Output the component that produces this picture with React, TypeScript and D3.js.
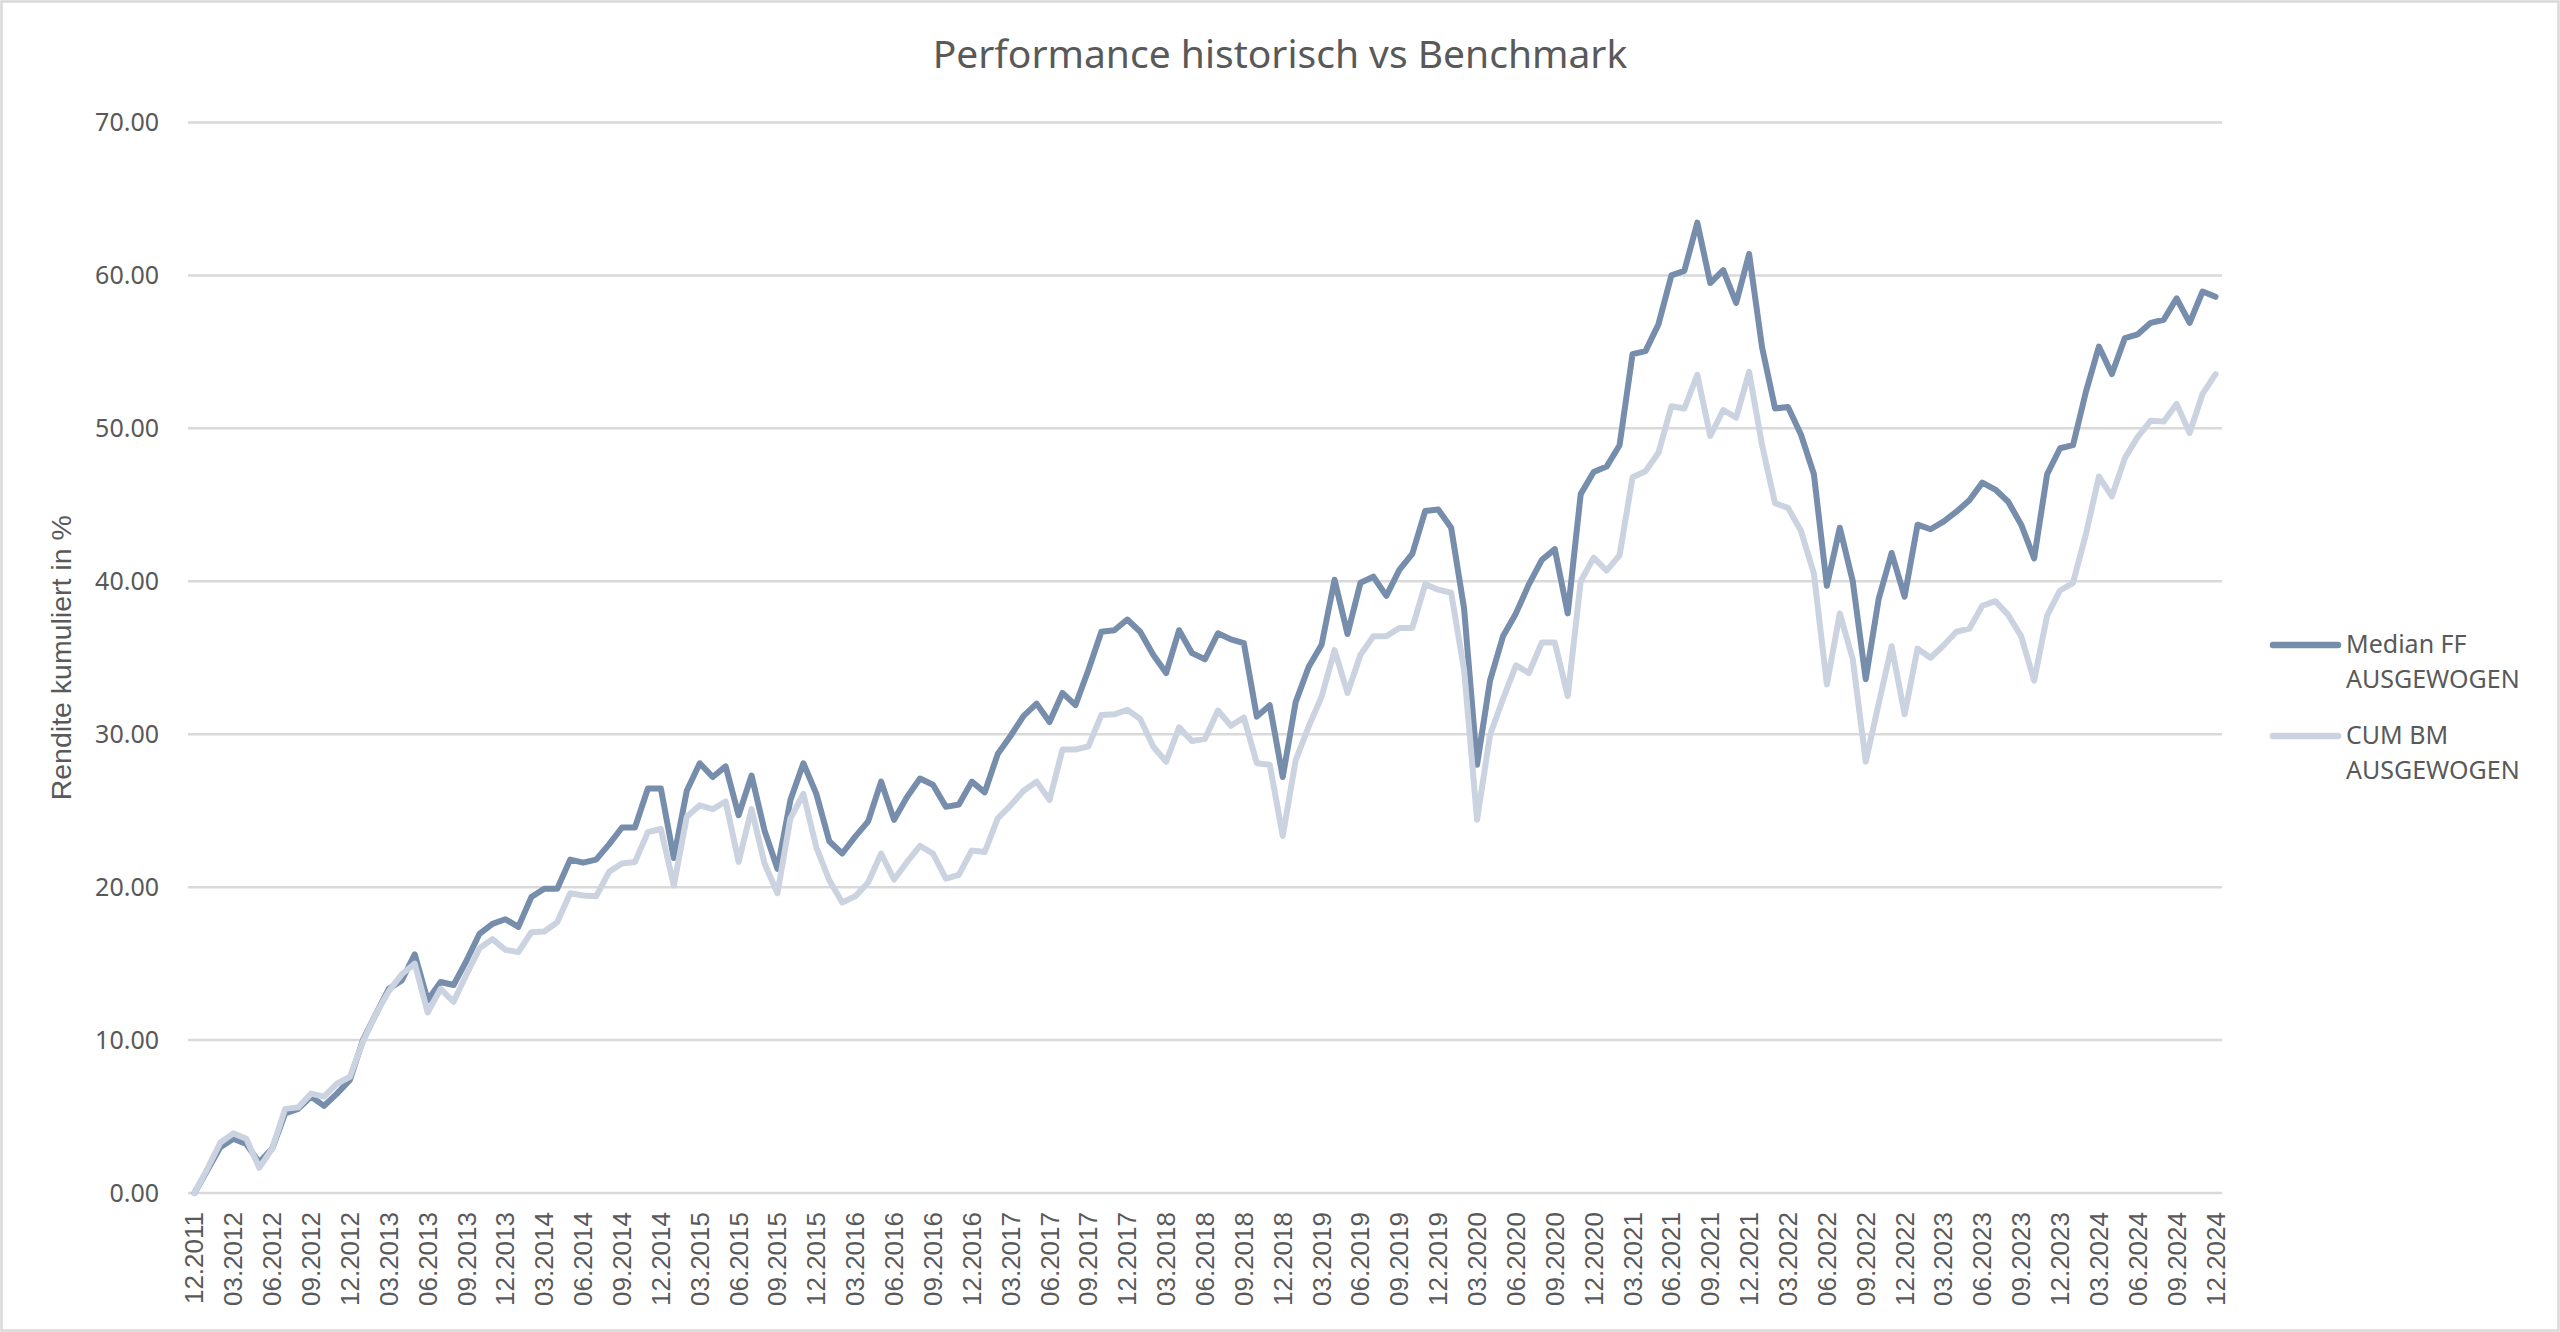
import { useRef, useEffect } from 'react'
import * as d3 from 'd3'

// Monthly points, 12.2011 .. 12.2024
const months = d3.timeMonth.range(new Date(2011, 11, 1), new Date(2025, 0, 1))
const categories = months.map((d) => d3.timeFormat('%m.%Y')(d))

const medianFF = [
  0, 1.5, 3.0, 3.55, 3.2, 2.0, 2.9, 5.2, 5.5, 6.3, 5.7, 6.5, 7.4, 10.0, 11.7, 13.35,
  13.9, 15.6, 12.6, 13.8, 13.6, 15.2, 16.95, 17.6, 17.9, 17.4, 19.35, 19.9, 19.9, 21.8, 21.6, 21.8,
  22.8, 23.9, 23.9, 26.45, 26.45, 21.9, 26.3, 28.1, 27.2, 27.9, 24.7, 27.3, 23.7, 21.2, 25.7, 28.1,
  26.1, 23.0, 22.2, 23.3, 24.3, 26.9, 24.4, 25.9, 27.1, 26.7, 25.25, 25.4, 26.9, 26.2, 28.7, 29.9,
  31.2, 32.0, 30.8, 32.7, 31.9, 34.2, 36.7, 36.8, 37.5, 36.7, 35.2, 34.0, 36.8, 35.3, 34.9, 36.6,
  36.2, 35.95, 31.15, 31.9, 27.2, 32.1, 34.4, 35.85, 40.1, 36.55, 39.9, 40.3, 39.05, 40.75, 41.8, 44.6,
  44.7, 43.5, 38.2, 28.0, 33.5, 36.4, 37.9, 39.8, 41.4, 42.1, 37.9, 45.7, 47.15, 47.5, 48.9, 54.85,
  55.05, 56.8, 60.0, 60.3, 63.45, 59.5, 60.35, 58.2, 61.4, 55.3, 51.3, 51.4, 49.6, 47.0, 39.7, 43.5,
  40.0, 33.6, 38.85, 41.85, 39.0, 43.7, 43.4, 43.9, 44.55, 45.3, 46.45, 46.0, 45.2, 43.7, 41.5, 47.0,
  48.7, 48.9, 52.4, 55.35, 53.55, 55.9, 56.15, 56.9, 57.1, 58.5, 56.9, 58.95, 58.6,
]

const cumBM = [
  0, 1.6, 3.3, 3.9, 3.55, 1.65, 2.9, 5.5, 5.6, 6.5, 6.3, 7.15, 7.6, 9.9, 11.7, 13.2,
  14.3, 15.0, 11.8, 13.35, 12.5, 14.3, 16.0, 16.6, 15.9, 15.75, 17.05, 17.1, 17.7, 19.6, 19.45, 19.4,
  21.0, 21.55, 21.65, 23.6, 23.8, 20.1, 24.6, 25.35, 25.1, 25.6, 21.65, 25.1, 21.55, 19.6, 24.5, 26.1,
  22.6, 20.45, 19.0, 19.4, 20.3, 22.2, 20.5, 21.65, 22.7, 22.2, 20.55, 20.8, 22.4, 22.3, 24.5, 25.35,
  26.3, 26.9, 25.7, 29.0, 29.0, 29.2, 31.25, 31.3, 31.6, 31.0, 29.2, 28.2, 30.45, 29.55, 29.7, 31.55,
  30.55, 31.1, 28.1, 28.0, 23.35, 28.3, 30.5, 32.45, 35.5, 32.7, 35.2, 36.4, 36.4, 36.95, 36.95, 39.8,
  39.45, 39.25, 34.2, 24.4, 29.95, 32.3, 34.5, 34.0, 36.0, 36.0, 32.5, 40.0, 41.55, 40.7, 41.7, 46.8,
  47.2, 48.4, 51.45, 51.3, 53.5, 49.5, 51.2, 50.7, 53.7, 48.9, 45.1, 44.8, 43.3, 40.5, 33.25, 37.9,
  34.9, 28.2, 32.0, 35.75, 31.3, 35.6, 35.0, 35.8, 36.7, 36.9, 38.4, 38.7, 37.8, 36.4, 33.5, 37.75,
  39.4, 39.9, 43.1, 46.85, 45.55, 48.05, 49.45, 50.5, 50.45, 51.6, 49.7, 52.25, 53.55,
]

const yTicks = [0, 10, 20, 30, 40, 50, 60, 70]

const seriesNames = [['Median FF', 'AUSGEWOGEN'], ['CUM BM', 'AUSGEWOGEN']]
const seriesColors = ['#768dac', '#cbd3e0']

const W = 2560
const H = 1332

export default function App() {
  const svgRef = useRef<SVGSVGElement>(null)

  useEffect(() => {
    if (!svgRef.current) return
    const svg = d3.select(svgRef.current)
    svg.selectAll('*').remove()

    const plot = { left: 188, right: 2222, top: 122.5, bottom: 1193 }
    const textColor = '#595959'
    const uiFont = '"Noto Sans", "Open Sans", sans-serif'
    const axisFont = '"Liberation Sans", Arial, sans-serif'

    // Background + frame
    svg.append('rect')
      .attr('x', 1.5).attr('y', 1.5)
      .attr('width', W - 3).attr('height', H - 3)
      .attr('fill', '#fff').attr('stroke', '#d9d9d9').attr('stroke-width', 2.5)

    // Scales
    const x = d3.scalePoint<number>()
      .domain(d3.range(categories.length))
      .range([plot.left, plot.right])
      .padding(0.5)

    const y = d3.scaleLinear().domain([0, 70]).range([plot.bottom, plot.top])

    // Gridlines
    svg.append('g')
      .selectAll('line')
      .data(yTicks)
      .join('line')
      .attr('x1', plot.left).attr('x2', plot.right)
      .attr('y1', (d) => y(d)).attr('y2', (d) => y(d))
      .attr('stroke', '#d9d9d9').attr('stroke-width', 2.5)

    // Y tick labels
    svg.append('g')
      .selectAll('text')
      .data(yTicks)
      .join('text')
      .attr('x', 159)
      .attr('y', (d) => y(d))
      .attr('dy', '0.35em')
      .attr('text-anchor', 'end')
      .attr('font-family', uiFont)
      .attr('font-size', 25)
      .attr('fill', textColor)
      .text((d) => d.toFixed(2))

    // X tick labels (every 3rd month)
    const xTickIdx = d3.range(0, categories.length, 3)
    svg.append('g')
      .selectAll('text')
      .data(xTickIdx)
      .join('text')
      .attr('transform', (i) => `translate(${x(i)! + 9},1212) rotate(-90)`)
      .attr('text-anchor', 'end')
      .attr('font-family', axisFont)
      .attr('font-size', 26)
      .attr('fill', textColor)
      .text((i) => categories[i])

    // Y axis title
    svg.append('text')
      .attr('transform', `translate(71,${(plot.top + plot.bottom) / 2}) rotate(-90)`)
      .attr('text-anchor', 'middle')
      .attr('font-family', axisFont)
      .attr('font-size', 28.5)
      .attr('fill', textColor)
      .text('Rendite kumuliert in %')

    // Title
    svg.append('text')
      .attr('x', W / 2)
      .attr('y', 68)
      .attr('text-anchor', 'middle')
      .attr('font-family', uiFont)
      .attr('font-size', 39)
      .attr('fill', textColor)
      .text('Performance historisch vs Benchmark')

    // Lines
    const line = d3.line<number>()
      .x((_, i) => x(i)!)
      .y((d) => y(d))

    ;[medianFF, cumBM].forEach((values, s) => {
      svg.append('path')
        .datum(values)
        .attr('d', line)
        .attr('fill', 'none')
        .attr('stroke', seriesColors[s])
        .attr('stroke-width', 6)
        .attr('stroke-linejoin', 'round')
        .attr('stroke-linecap', 'round')
    })

    // Legend
    const legendY = [645, 736]
    seriesNames.forEach((lines, s) => {
      const g = svg.append('g')
      g.append('line')
        .attr('x1', 2273).attr('x2', 2338)
        .attr('y1', legendY[s]).attr('y2', legendY[s])
        .attr('stroke', seriesColors[s])
        .attr('stroke-width', 6.5)
        .attr('stroke-linecap', 'round')
      lines.forEach((t, k) => {
        g.append('text')
          .attr('x', 2346)
          .attr('y', legendY[s] + 8 + k * 35)
          .attr('font-family', uiFont)
          .attr('font-size', 25)
          .attr('fill', textColor)
          .text(t)
      })
    })
  }, [])

  return (
    <div>
      <svg
        ref={svgRef}
        width={W}
        height={H}
        style={{ position: 'absolute', left: 0, top: 0, display: 'block' }}
      />
    </div>
  )
}
